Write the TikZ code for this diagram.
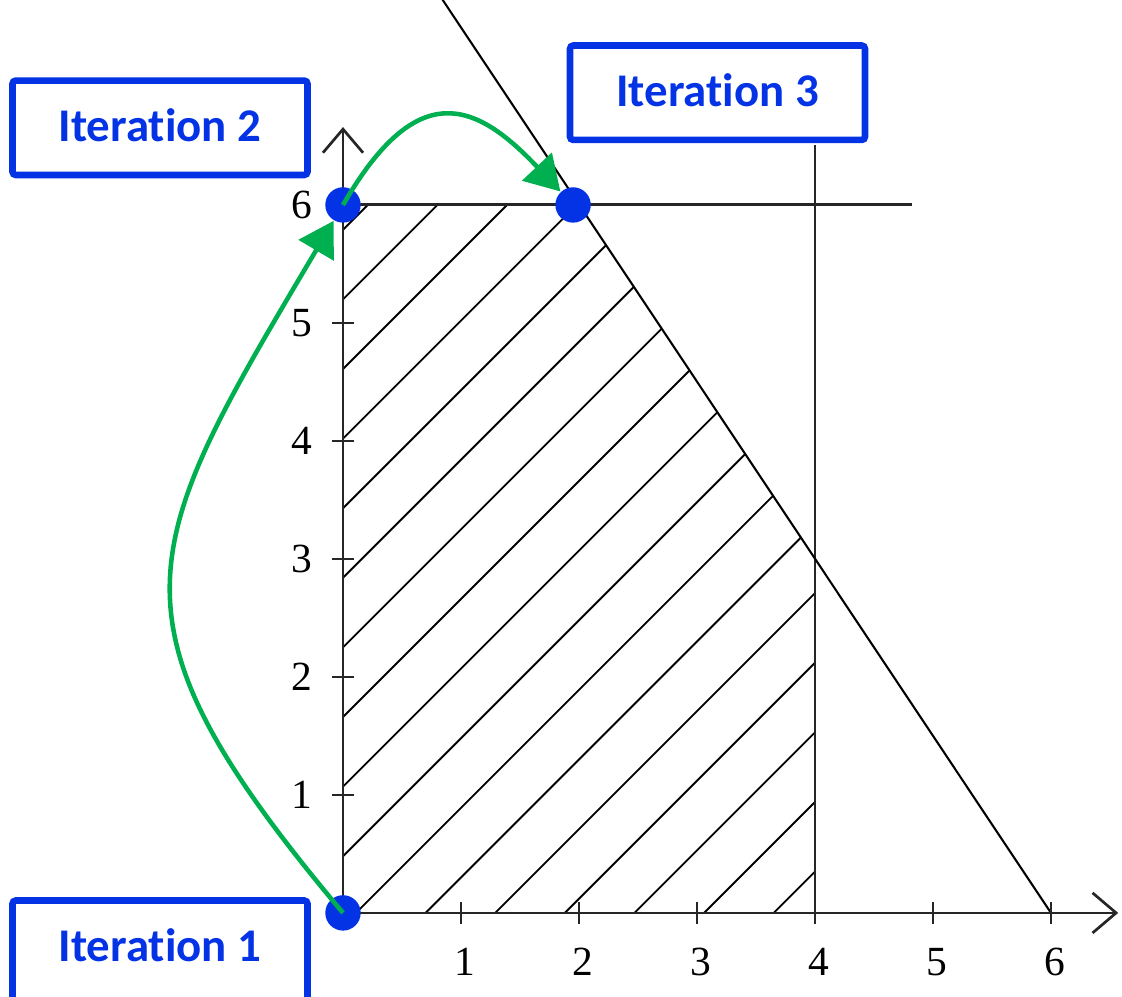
\documentclass[tikz,border=0pt]{standalone}
\usepackage{fontspec}
\newfontfamily\tickfont{Liberation Serif}
\newfontfamily\boxfont{Carlito}[Ligatures=NoCommon]
\usetikzlibrary{arrows.meta, calc, positioning}
\definecolor{itBlue}{HTML}{0433E6}
\definecolor{itGreen}{HTML}{00B050}
\tikzset{
  axisline/.style   = {-{Straight Barb[length=2mm, width=3.4mm]}, line width=0.65pt, black!85},
  bound/.style      = {line width=0.7pt, black!85},
  slant/.style      = {line width=0.5pt, black},
  hatchline/.style  = {line width=0.45pt, black},
  tickmark/.style   = {line width=0.6pt, black!85},
  statedot/.style   = {circle, fill=itBlue, inner sep=0pt, minimum size=3mm},
  moveline/.style   = {-{Triangle[length=2.9mm, width=3.4mm]}, itGreen, line width=1.1pt},
  iterbox/.style    = {draw=itBlue, line width=1.6pt, rounded corners=0.8pt, text=itBlue,
                       font=\boxfont\bfseries\fontsize{11.3}{13}\selectfont,
                       minimum width=2.5cm, inner xsep=0pt, inner ysep=0.28cm,
                       text height=0.24cm, text depth=0pt, anchor=base},
  lbl/.style        = {font=\tickfont\fontsize{10}{11}\selectfont, black},
}
\begin{document}
\begin{tikzpicture}[x=1cm,y=1cm]
  \useasboundingbox (-2.907,-0.712) rectangle (6.602,7.737);
  % feasible region
  \begin{scope}
    \clip (0,0) -- (4,0) -- (4,3) -- (2,6) -- (0,6) -- cycle;
    \foreach \k in {-7,...,9}
      \draw[hatchline] (-1,{0.48+0.59*\k-1}) -- (7,{0.48+0.59*\k+7});
  \end{scope}
  \draw[bound] (0,6) -- (4.82,6);
  \draw[bound] (4,0) -- (4,6.51);
  \draw[slant] (0.83,7.76) -- (6,0);
  \draw[axisline] (0,0) -- (6.57,0);
  \draw[axisline] (0,0) -- (0,6.66);
  \foreach \i in {1,...,6} {
    \draw[tickmark] (\i,-0.09) -- (\i,0.09);
    \node[lbl] (xl\i) at (\i+0.03,-0.415) {\i};
    \draw[tickmark] (-0.09,\i) -- (0.09,\i);
    \node[lbl] (yl\i) at (-0.35,\i) {\i};
  }
  \node[statedot] (p1) at (0,0) {};
  \node[statedot] (p2) at (0,6) {};
  \node[statedot] (p3) at (1.95,6) {};
  \draw[moveline] (p1.center) .. controls (-2.11,2.51) and (-1.73,3.08) .. (p2);
  \draw[moveline] (p2.center) .. controls (0.625,7.08) and (1.116,6.884) .. (p3);
  \node[iterbox, text depth=1cm] (it1) at (-1.551,-0.415) {Iteration 1};
  \node[iterbox] (it2) at (-1.551,6.534) {Iteration 2};
  \node[iterbox] (it3) at (3.174,6.831) {Iteration 3};
\end{tikzpicture}
\end{document}
